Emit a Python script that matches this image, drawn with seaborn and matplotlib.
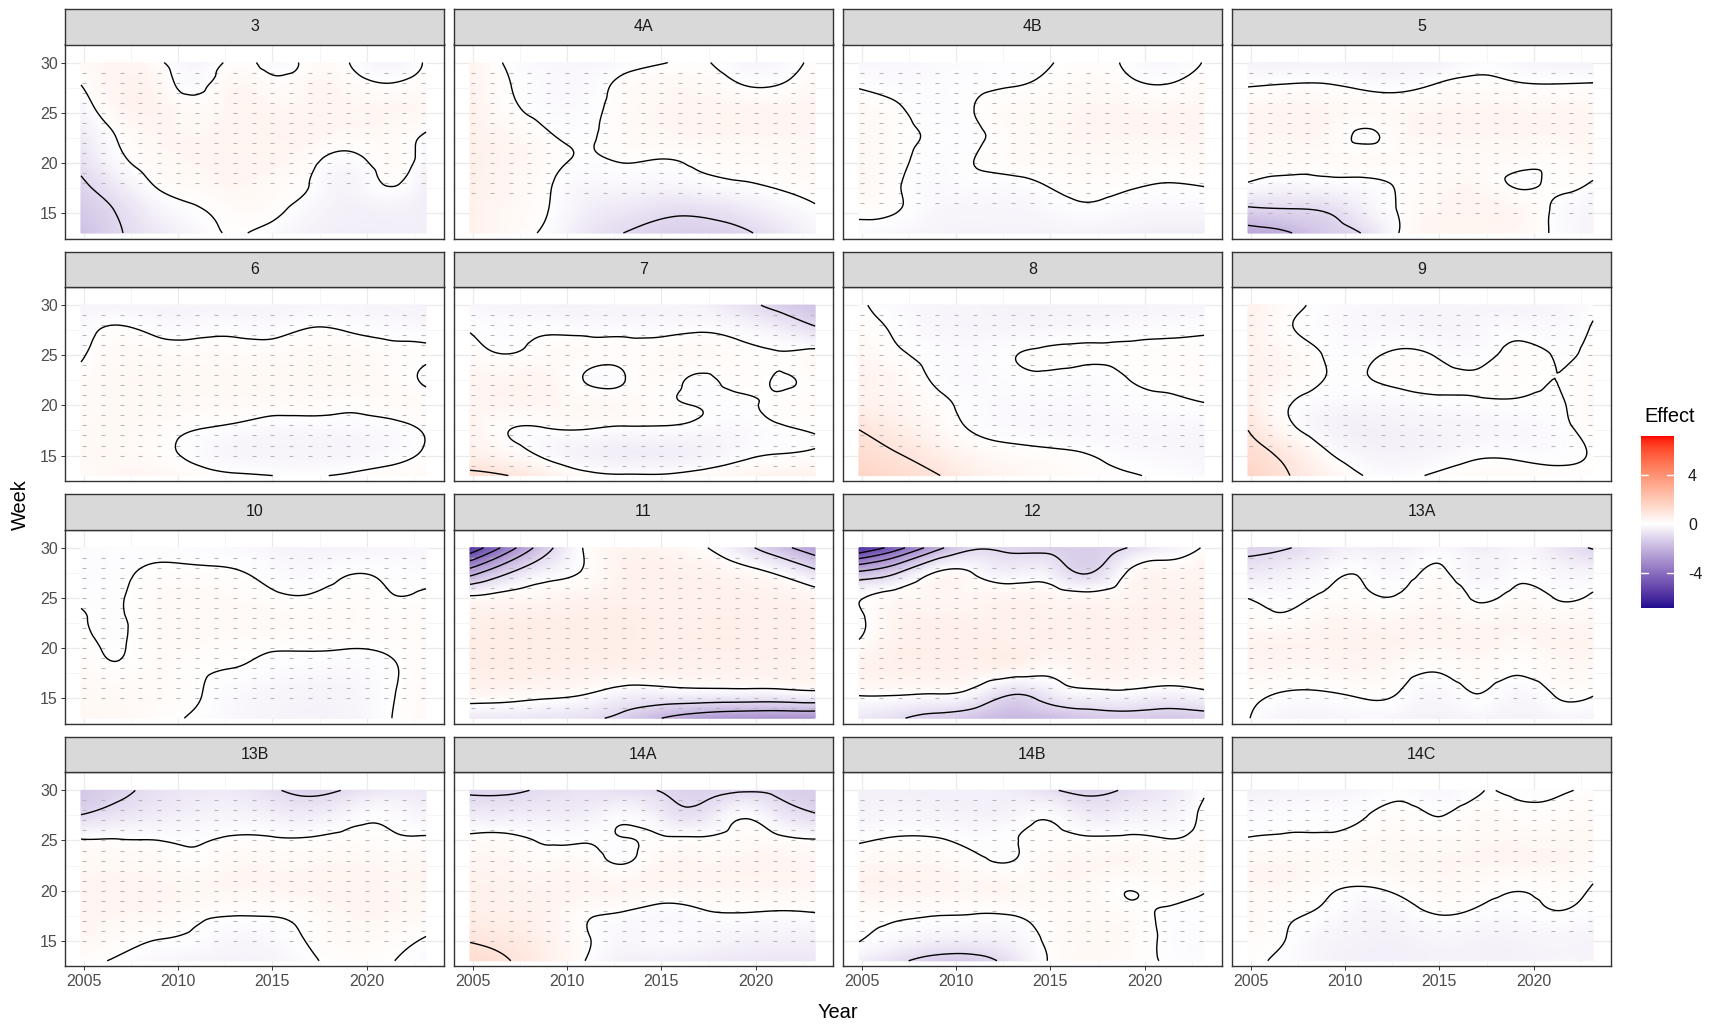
import numpy as np
import matplotlib
matplotlib.use("Agg")
import matplotlib.pyplot as plt
import matplotlib.tri as mtri
from matplotlib.colors import ListedColormap, Normalize
import seaborn as sns

# ---------------- data ----------------
years_grid = [2005, 2007, 2009, 2011, 2013, 2015, 2017, 2019, 2021, 2023]
weeks_grid = [30.0, 27.57, 25.14, 22.71, 20.29, 17.86, 15.43, 13.0]   # rows, top -> bottom

panel_labels = ["3", "4A", "4B", "5", "6", "7", "8", "9",
                "10", "11", "12", "13A", "13B", "14A", "14B", "14C"]

eff_3 = [
    [0.2, 0.3, 0.1, -0.3, 0.1, -0.15, 0.15, 0.0, -0.3, 0.05],
    [-0.02, 0.4, 0.3, -0.1, 0.3, 0.15, 0.3, 0.2, 0.05, 0.2],
    [-0.25, 0.3, 0.4, 0.2, 0.35, 0.35, 0.35, 0.3, 0.3, 0.25],
    [-0.5, 0.05, 0.3, 0.3, 0.35, 0.4, 0.35, 0.2, 0.2, -0.05],
    [-0.8, -0.1, 0.2, 0.3, 0.35, 0.35, 0.1, -0.1, 0.15, -0.2],
    [-1.1, -0.5, 0.05, 0.2, 0.3, 0.2, -0.02, -0.3, 0.02, -0.4],
    [-1.4, -0.9, -0.3, -0.03, 0.15, 0.1, -0.2, -0.4, -0.35, -0.45],
    [-1.7, -1.05, -0.6, -0.2, 0.03, -0.15, -0.35, -0.45, -0.45, -0.45],
]
eff_4A = [
    [0.4, -0.05, -0.2, -0.25, -0.15, -0.02, 0.05, -0.2, -0.2, 0.1],
    [0.45, 0.02, -0.15, -0.15, 0.1, 0.25, 0.25, 0.05, 0.02, 0.25],
    [0.5, 0.1, -0.1, -0.1, 0.15, 0.3, 0.35, 0.35, 0.35, 0.35],
    [0.5, 0.3, 0.05, -0.05, 0.15, 0.25, 0.3, 0.3, 0.3, 0.3],
    [0.55, 0.35, 0.15, -0.05, 0.03, -0.01, 0.08, 0.15, 0.2, 0.25],
    [0.55, 0.3, 0.05, -0.2, -0.2, -0.25, -0.15, -0.05, 0.05, 0.15],
    [0.5, 0.25, 0.02, -0.4, -0.6, -0.8, -0.8, -0.6, -0.3, -0.05],
    [0.5, 0.2, -0.1, -0.6, -1.0, -1.2, -1.25, -1.15, -0.7, -0.3],
]
eff_4B = [
    [-0.2, -0.2, -0.15, -0.1, -0.05, -0.01, 0.1, -0.05, -0.2, 0.02],
    [-0.02, -0.1, -0.1, -0.05, 0.0, 0.1, 0.2, 0.1, 0.03, 0.2],
    [0.25, 0.05, -0.1, 0.0, 0.2, 0.25, 0.3, 0.3, 0.3, 0.3],
    [0.3, 0.1, -0.05, -0.05, 0.15, 0.25, 0.3, 0.3, 0.3, 0.3],
    [0.3, 0.08, -0.1, 0.0, 0.15, 0.2, 0.2, 0.2, 0.15, 0.2],
    [0.3, 0.03, -0.15, -0.1, -0.1, 0.03, 0.1, 0.05, -0.01, 0.02],
    [0.1, 0.02, -0.2, -0.25, -0.25, -0.15, -0.05, -0.15, -0.2, -0.2],
    [-0.1, -0.2, -0.3, -0.35, -0.35, -0.35, -0.35, -0.4, -0.45, -0.45],
]
eff_5 = [
    [-0.3, -0.35, -0.3, -0.35, -0.35, -0.3, -0.1, -0.2, -0.3, -0.3],
    [0.0, 0.05, 0.05, -0.05, -0.08, 0.06, 0.12, 0.06, 0.04, 0.06],
    [0.3, 0.35, 0.3, 0.2, 0.25, 0.3, 0.3, 0.3, 0.3, 0.3],
    [0.35, 0.3, 0.25, -0.05, 0.2, 0.3, 0.3, 0.3, 0.3, 0.3],
    [0.25, 0.2, 0.15, 0.15, 0.15, 0.15, 0.2, 0.15, 0.1, 0.25],
    [-0.05, -0.2, -0.15, -0.1, 0.05, 0.2, 0.25, -0.04, 0.06, -0.05],
    [-1.1, -1.0, -0.9, -0.4, 0.05, 0.3, 0.35, 0.3, -0.05, -0.25],
    [-2.4, -2.1, -1.4, -0.95, 0.05, 0.35, 0.35, 0.25, -0.05, -0.3],
]
eff_6 = [
    [-0.3, -0.3, -0.3, -0.3, -0.3, -0.3, -0.25, -0.25, -0.3, -0.35],
    [-0.15, 0.05, -0.08, -0.1, -0.08, -0.1, 0.02, -0.03, -0.1, -0.15],
    [-0.05, 0.2, 0.15, 0.15, 0.15, 0.15, 0.2, 0.2, 0.1, 0.05],
    [0.1, 0.25, 0.25, 0.25, 0.25, 0.25, 0.25, 0.25, 0.15, -0.06],
    [0.15, 0.25, 0.25, 0.2, 0.2, 0.15, 0.15, 0.1, 0.15, 0.15],
    [0.2, 0.25, 0.15, 0.03, -0.05, -0.15, -0.15, -0.15, -0.1, 0.05],
    [0.25, 0.25, 0.1, -0.1, -0.25, -0.3, -0.3, -0.25, -0.15, 0.03],
    [0.1, 0.3, 0.3, 0.15, 0.05, 0.0, -0.02, 0.05, 0.15, 0.2],
]
eff_7 = [
    [-0.2, -0.3, -0.35, -0.35, -0.3, -0.3, -0.35, -0.7, -1.2, -1.6],
    [-0.02, -0.1, -0.05, -0.1, -0.1, -0.1, -0.05, -0.15, -0.4, -0.85],
    [0.15, 0.0, 0.15, 0.15, 0.1, 0.15, 0.2, 0.1, 0.02, 0.15],
    [0.35, 0.35, 0.3, -0.02, -0.02, 0.15, -0.05, 0.1, -0.02, 0.15],
    [0.35, 0.35, 0.3, 0.25, 0.2, 0.08, -0.05, -0.05, 0.05, 0.15],
    [0.4, 0.03, 0.02, 0.06, -0.02, -0.02, -0.1, -0.15, -0.03, 0.05],
    [0.5, 0.2, -0.15, -0.35, -0.45, -0.45, -0.35, -0.15, -0.03, 0.02],
    [1.2, 1.0, 0.6, 0.15, 0.05, 0.05, 0.2, 0.35, 0.45, 0.5],
]
eff_8 = [
    [0.05, -0.15, -0.25, -0.3, -0.35, -0.35, -0.35, -0.35, -0.3, -0.3],
    [0.15, -0.05, -0.2, -0.25, -0.25, -0.2, -0.15, -0.1, -0.08, -0.05],
    [0.3, 0.05, -0.1, -0.15, -0.02, 0.05, 0.05, 0.05, 0.08, 0.1],
    [0.45, 0.25, -0.05, -0.15, -0.08, -0.05, -0.1, 0.0, 0.05, 0.1],
    [0.5, 0.35, 0.1, -0.1, -0.15, -0.15, -0.15, -0.1, -0.05, 0.0],
    [0.95, 0.6, 0.25, -0.05, -0.15, -0.2, -0.2, -0.2, -0.2, -0.2],
    [1.25, 0.98, 0.6, 0.25, 0.1, 0.04, -0.03, -0.15, -0.2, -0.25],
    [1.6, 1.3, 1.05, 0.6, 0.35, 0.2, 0.1, 0.03, -0.05, -0.15],
]
eff_9 = [
    [0.5, 0.15, -0.1, -0.2, -0.25, -0.3, -0.3, -0.3, -0.25, -0.05],
    [0.5, 0.05, -0.1, -0.2, -0.2, -0.25, -0.2, -0.1, -0.15, 0.03],
    [0.45, 0.25, -0.02, -0.08, 0.05, -0.05, -0.1, 0.08, -0.02, 0.1],
    [0.5, 0.25, 0.0, -0.02, 0.08, 0.08, 0.05, 0.08, 0.0, 0.15],
    [0.6, 0.05, -0.15, -0.2, -0.15, -0.08, -0.05, -0.03, -0.03, 0.2],
    [0.95, 0.15, -0.3, -0.4, -0.35, -0.3, -0.25, -0.2, -0.1, 0.15],
    [1.25, 0.75, 0.05, -0.3, -0.35, -0.25, -0.1, -0.1, -0.1, 0.03],
    [1.6, 1.05, 0.5, 0.0, -0.1, 0.08, 0.2, 0.2, 0.1, 0.1],
]
eff_10 = [
    [-0.1, -0.08, -0.1, -0.12, -0.15, -0.25, -0.35, -0.3, -0.25, -0.2],
    [-0.1, -0.05, 0.05, 0.05, 0.02, -0.1, -0.15, -0.02, -0.05, -0.1],
    [-0.05, -0.02, 0.15, 0.2, 0.15, 0.05, 0.02, 0.1, 0.02, 0.05],
    [0.03, -0.03, 0.15, 0.2, 0.2, 0.2, 0.15, 0.15, 0.1, 0.15],
    [0.1, -0.02, 0.15, 0.15, 0.1, 0.05, 0.05, 0.03, 0.05, 0.15],
    [0.2, 0.05, 0.15, 0.05, -0.01, -0.1, -0.15, -0.15, -0.05, 0.15],
    [0.25, 0.2, 0.15, 0.03, -0.15, -0.25, -0.3, -0.25, -0.05, 0.2],
    [0.3, 0.25, 0.1, -0.05, -0.2, -0.3, -0.35, -0.3, -0.03, 0.2],
]
eff_11 = [
    [-5.8, -3.5, -1.3, 0.05, 0.4, 0.35, 0.1, -0.6, -1.6, -2.6],
    [-2.5, -1.1, -0.3, 0.05, 0.45, 0.5, 0.45, 0.25, -0.1, -0.8],
    [0.05, 0.2, 0.3, 0.4, 0.5, 0.5, 0.5, 0.5, 0.45, 0.3],
    [0.55, 0.6, 0.6, 0.6, 0.6, 0.55, 0.55, 0.55, 0.5, 0.5],
    [0.65, 0.65, 0.6, 0.6, 0.6, 0.55, 0.55, 0.55, 0.5, 0.5],
    [0.6, 0.6, 0.55, 0.5, 0.45, 0.45, 0.45, 0.45, 0.45, 0.45],
    [0.3, 0.25, 0.15, 0.02, -0.3, -0.35, -0.3, -0.3, -0.3, -0.2],
    [-0.6, -0.6, -0.7, -0.85, -1.25, -2.0, -2.6, -2.9, -3.0, -3.0],
]
eff_12 = [
    [-6.0, -4.4, -2.4, -1.1, -1.2, -1.3, -1.3, -1.0, -0.4, 0.05],
    [-1.9, -1.1, 0.0, -0.05, -0.4, -0.45, -1.05, 0.02, 0.3, 0.4],
    [-0.05, 0.2, 0.3, 0.3, 0.35, 0.3, 0.2, 0.35, 0.45, 0.45],
    [-0.1, 0.4, 0.5, 0.5, 0.5, 0.5, 0.5, 0.5, 0.5, 0.5],
    [0.1, 0.5, 0.55, 0.55, 0.55, 0.5, 0.5, 0.5, 0.4, 0.5],
    [0.45, 0.5, 0.5, 0.45, 0.35, 0.15, 0.4, 0.4, 0.35, 0.4],
    [0.05, 0.05, 0.0, -0.25, -0.95, -0.5, -0.2, -0.15, -0.3, -0.15],
    [-0.6, -0.9, -1.3, -1.6, -1.9, -1.8, -1.5, -1.4, -1.5, -1.4],
]
eff_13A = [
    [-1.2, -1.05, -0.6, -0.4, -0.45, -0.2, -0.5, -0.25, -0.6, -1.05],
    [-0.6, -0.4, -0.15, -0.05, -0.15, 0.05, -0.25, -0.1, -0.2, -0.3],
    [-0.03, -0.1, 0.05, 0.05, 0.03, 0.2, -0.05, 0.1, -0.02, 0.05],
    [0.2, 0.1, 0.3, 0.3, 0.3, 0.35, 0.25, 0.3, 0.25, 0.3],
    [0.4, 0.4, 0.4, 0.45, 0.4, 0.3, 0.35, 0.2, 0.35, 0.35],
    [0.3, 0.25, 0.25, 0.3, 0.15, 0.03, 0.15, 0.03, 0.2, 0.2],
    [0.1, -0.03, -0.03, 0.05, -0.03, -0.2, 0.0, -0.2, 0.02, 0.02],
    [0.02, -0.3, -0.3, -0.2, -0.3, -0.4, -0.3, -0.4, -0.3, -0.3],
]
eff_13B = [
    [-1.5, -1.15, -0.8, -0.6, -0.6, -0.9, -1.2, -0.9, -0.6, -0.6],
    [-1.0, -0.7, -0.5, -0.35, -0.3, -0.4, -0.5, -0.2, -0.1, -0.3],
    [0.0, 0.0, -0.02, -0.05, 0.05, 0.03, 0.03, 0.1, 0.05, 0.05],
    [0.25, 0.25, 0.2, 0.1, 0.25, 0.25, 0.25, 0.3, 0.25, 0.3],
    [0.35, 0.35, 0.3, 0.3, 0.3, 0.3, 0.35, 0.35, 0.3, 0.3],
    [0.35, 0.3, 0.25, 0.1, 0.05, 0.05, 0.15, 0.3, 0.3, 0.2],
    [0.3, 0.15, 0.03, -0.05, -0.2, -0.15, 0.05, 0.2, 0.15, 0.0],
    [0.1, -0.05, -0.2, -0.3, -0.35, -0.3, -0.05, 0.1, 0.03, -0.15],
]
eff_14A = [
    [-1.1, -1.1, -0.9, -0.75, -0.85, -1.05, -1.2, -1.1, -1.15, -1.3],
    [-0.5, -0.5, -0.45, -0.4, -0.15, -0.5, -0.75, -0.1, -0.5, -0.95],
    [0.1, 0.1, -0.05, -0.03, -0.02, 0.05, 0.05, 0.15, 0.1, 0.0],
    [0.35, 0.3, 0.2, 0.2, -0.01, 0.3, 0.3, 0.35, 0.35, 0.3],
    [0.5, 0.45, 0.4, 0.35, 0.3, 0.3, 0.3, 0.3, 0.3, 0.3],
    [0.6, 0.5, 0.4, 0.1, -0.01, -0.15, -0.05, 0.01, -0.02, 0.01],
    [0.9, 0.75, 0.45, 0.05, -0.2, -0.15, -0.2, -0.3, -0.35, -0.35],
    [1.3, 1.02, 0.6, 0.0, -0.4, -0.45, -0.55, -0.6, -0.65, -0.65],
]
eff_14B = [
    [-0.4, -0.4, -0.4, -0.4, -0.5, -0.9, -1.2, -0.9, -0.6, -0.05],
    [-0.3, -0.25, -0.3, -0.35, -0.25, -0.1, -0.5, -0.4, -0.3, 0.1],
    [-0.05, 0.03, 0.02, -0.08, -0.02, 0.1, 0.05, 0.08, 0.01, 0.15],
    [0.25, 0.3, 0.25, 0.1, 0.02, 0.25, 0.3, 0.3, 0.25, 0.3],
    [0.4, 0.4, 0.35, 0.3, 0.3, 0.25, 0.2, 0.02, 0.15, 0.05],
    [0.15, 0.08, 0.05, 0.03, 0.05, 0.15, 0.2, 0.1, -0.03, -0.05],
    [0.05, -0.15, -0.3, -0.35, -0.25, 0.1, 0.25, 0.2, -0.05, -0.1],
    [-0.4, -0.85, -1.3, -1.3, -0.7, 0.05, 0.25, 0.15, -0.03, -0.1],
]
eff_14C = [
    [-0.4, -0.35, -0.3, -0.2, -0.1, -0.2, -0.02, -0.05, -0.05, 0.05],
    [-0.15, -0.1, -0.08, -0.03, 0.1, -0.01, 0.15, 0.1, 0.1, 0.2],
    [0.02, 0.05, 0.05, 0.15, 0.2, 0.15, 0.25, 0.25, 0.25, 0.25],
    [0.3, 0.3, 0.25, 0.25, 0.3, 0.3, 0.3, 0.3, 0.3, 0.15],
    [0.3, 0.25, 0.08, -0.02, 0.1, 0.2, 0.15, 0.03, 0.1, -0.02],
    [0.25, 0.05, -0.05, -0.25, -0.15, 0.03, -0.05, -0.1, -0.01, -0.1],
    [0.15, 0.0, -0.25, -0.35, -0.35, -0.25, -0.3, -0.3, -0.25, -0.3],
    [0.05, -0.08, -0.3, -0.4, -0.4, -0.35, -0.35, -0.35, -0.3, -0.3],
]
panel_values = [eff_3, eff_4A, eff_4B, eff_5, eff_6, eff_7, eff_8, eff_9,
                eff_10, eff_11, eff_12, eff_13A, eff_13B, eff_14A, eff_14B, eff_14C]

# observation points (small grey marks): years x weeks within a per-panel week span
dot_years = list(range(2005, 2024))
dot_week_lo = [18, 17, 16, 15, 15, 14, 16, 16, 15, 14, 15, 15, 15, 15, 15, 16]
dot_week_hi = [29, 29, 29, 29, 29, 29, 29, 29, 29, 29, 28, 29, 29, 29, 29, 29]

effect_limits = (-6.9, 7.2)
contour_levels = list(range(-6, 8))
x_ticks = [2005, 2010, 2015, 2020]
x_minor = [2007.5, 2012.5, 2017.5, 2022.5]
y_ticks = [15, 20, 25, 30]
y_minor = [12.5, 17.5, 22.5, 27.5]
legend_ticks = [-4, 0, 4]

# ---------------- style ----------------
sns.set_theme(style="white")
plt.rcParams['font.family'] = ['Liberation Sans', 'DejaVu Sans']
plt.rcParams['axes.unicode_minus'] = False
plt.rcParams['contour.negative_linestyle'] = 'solid'

W, H = 1715, 1026
col_left = [65, 454, 843, 1232]
panel_w = 379
row_top = [44.5, 287.1, 529.7, 772.3]
panel_h = 194
strip_h = 35.5
raster_x = (2004.85, 2023.15)


# ggplot-style Lab gradient: darkblue - white - red
_M = np.array([[0.4124564, 0.3575761, 0.1804375],
               [0.2126729, 0.7151522, 0.0721750],
               [0.0193339, 0.1191920, 0.9503041]])
_WHITE = np.array([0.95047, 1.0, 1.08883])


def _srgb_to_lab(rgb):
    rgb = np.asarray(rgb, float)
    lin = np.where(rgb <= 0.04045, rgb / 12.92, ((rgb + 0.055) / 1.055) ** 2.4)
    xyz = _M @ lin / _WHITE
    d = 6 / 29
    f = np.where(xyz > d ** 3, np.cbrt(xyz), xyz / (3 * d * d) + 4 / 29)
    return np.array([116 * f[1] - 16, 500 * (f[0] - f[1]), 200 * (f[1] - f[2])])


def _lab_to_srgb(lab):
    L, a, b = lab
    fy = (L + 16) / 116
    fx = fy + a / 500
    fz = fy - b / 200
    d = 6 / 29
    finv = lambda t: np.where(t > d, t ** 3, 3 * d * d * (t - 4 / 29))
    xyz = np.array([finv(fx), finv(fy), finv(fz)]) * _WHITE
    lin = np.clip(np.linalg.inv(_M) @ xyz, 0, 1)
    rgb = np.where(lin <= 0.0031308, 12.92 * lin, 1.055 * lin ** (1 / 2.4) - 0.055)
    return np.clip(rgb, 0, 1)


low = _srgb_to_lab([0, 0, 139 / 255])
mid = _srgb_to_lab([1, 1, 1])
high = _srgb_to_lab([1, 0, 0])
cols = []
for t in np.linspace(0, 1, 512):
    if t < 0.5:
        lab = low + (mid - low) * (t / 0.5)
    else:
        lab = mid + (high - mid) * ((t - 0.5) / 0.5)
    cols.append(_lab_to_srgb(lab))
cmap = ListedColormap(cols)
vmax = max(abs(effect_limits[0]), abs(effect_limits[1]))
norm = Normalize(-vmax, vmax)

fig = plt.figure(figsize=(W / 100, H / 100), dpi=100)


def frac_rect(left, top, w, h):
    return [left / W, 1 - (top + h) / H, w / W, h / H]


X, Y = np.meshgrid(np.array(years_grid, float), np.array(weeks_grid, float))
Xr = raster_x[0] + (X - years_grid[0]) * (raster_x[1] - raster_x[0]) / (years_grid[-1] - years_grid[0])
tri = mtri.Triangulation(Xr.ravel(), Y.ravel())
refiner = mtri.UniformTriRefiner(tri)

for i, (label, vals) in enumerate(zip(panel_labels, panel_values)):
    r, c = divmod(i, 4)
    ax = fig.add_axes(frac_rect(col_left[c], row_top[r], panel_w, panel_h))
    Z = np.array(vals, float).ravel()
    interp = mtri.CubicTriInterpolator(tri, Z, kind='min_E')
    tri_f, z_f = refiner.refine_field(Z, triinterpolator=interp, subdiv=4)
    ax.tripcolor(tri_f, z_f, shading='gouraud', cmap=cmap, norm=norm, rasterized=True, zorder=1)

    dx, dy = np.meshgrid(dot_years, np.arange(dot_week_lo[i], dot_week_hi[i] + 1))
    sns.scatterplot(x=dx.ravel(), y=dy.ravel(), ax=ax, marker='_', s=5,
                    color='#b8b8b8', linewidth=0.8, legend=False, zorder=2)

    ax.tricontour(tri_f, z_f, levels=contour_levels, colors='black',
                  linewidths=1.0, linestyles='solid', zorder=3)

    ax.set_xlim(2004.0, 2024.1)
    ax.set_ylim(12.45, 31.8)
    ax.set_xticks(x_ticks)
    ax.set_xticks(x_minor, minor=True)
    ax.set_yticks(y_ticks)
    ax.set_yticks(y_minor, minor=True)
    ax.set_axisbelow(True)
    ax.grid(which='major', color='#EBEBEB', linewidth=0.9)
    ax.grid(which='minor', color='#F2F2F2', linewidth=0.5)
    ax.set_facecolor('white')
    for sp in ax.spines.values():
        sp.set_color('#333333')
        sp.set_linewidth(1.0)
    ax.tick_params(which='minor', length=0)
    ax.tick_params(which='major', length=3.2, width=0.7, color='#333333',
                   labelsize=11.5, labelcolor='#4D4D4D', pad=2,
                   left=(c == 0), bottom=(r == 3), labelleft=(c == 0), labelbottom=(r == 3),
                   right=False, top=False)
    ax.set_xlabel('')
    ax.set_ylabel('')

    sax = fig.add_axes(frac_rect(col_left[c], row_top[r] - strip_h, panel_w, strip_h))
    sax.set_facecolor('#D9D9D9')
    sax.set_xticks([])
    sax.set_yticks([])
    for sp in sax.spines.values():
        sp.set_color('#333333')
        sp.set_linewidth(1.0)
    sax.text(0.5, 0.5, label, ha='center', va='center', fontsize=11.5,
             color='#1A1A1A', transform=sax.transAxes)

# colour bar legend
cax = fig.add_axes(frac_rect(1641, 436, 33, 172))
grad = np.linspace(effect_limits[0], effect_limits[1], 400).reshape(-1, 1)
cax.imshow(grad, aspect='auto', cmap=cmap, norm=norm, origin='lower',
           extent=[0, 1, effect_limits[0], effect_limits[1]])
for v in legend_ticks:
    cax.plot([0, 0.2], [v, v], color='white', lw=1.0)
    cax.plot([0.8, 1.0], [v, v], color='white', lw=1.0)
cax.set_xlim(0, 1)
cax.set_ylim(*effect_limits)
cax.set_xticks([])
cax.set_yticks(legend_ticks)
cax.set_yticklabels([str(v) for v in legend_ticks])
cax.tick_params(axis='y', left=False, right=False, labelleft=False, labelright=True,
                length=0, pad=10, labelsize=11.5, labelcolor='#1A1A1A')
for sp in cax.spines.values():
    sp.set_visible(False)

fig.text(1644 / W, 1 - 416 / H, "Effect", ha='left', va='center', fontsize=14.4, color='black')
fig.text(20 / W, 1 - 505 / H, "Week", rotation=90, ha='center', va='center', fontsize=14.4, color='black')
fig.text(838 / W, 1 - 1012 / H, "Year", ha='center', va='center', fontsize=14.4, color='black')

fig.savefig('out.png', dpi=100)
